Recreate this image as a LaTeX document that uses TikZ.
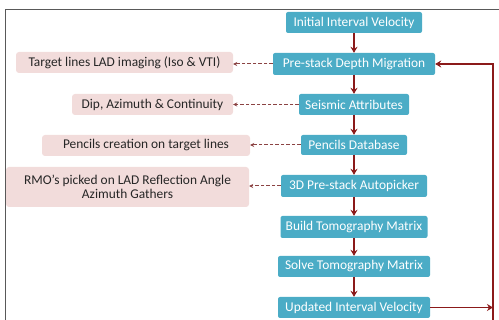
\documentclass[tikz,border=0pt]{standalone}
\usepackage{fontspec}
\setmainfont{Carlito}
\usetikzlibrary{arrows.meta}
\definecolor{bluebox}{HTML}{4BACC6}
\definecolor{pinkbox}{HTML}{F2DCDB}
\definecolor{arrred}{HTML}{8B1A1A}
\definecolor{dashred}{HTML}{8B4343}
\begin{document}
\begin{tikzpicture}[x=1pt,y=-1pt,
  bluestep/.style={fill=bluebox,rounded corners=2pt,text=white,font=\fontsize{13.4}{14.5}\selectfont,inner sep=0pt,align=center},
  pinkstep/.style={fill=pinkbox,rounded corners=3pt,text=black!85,font=\fontsize{13.4}{14.5}\selectfont,inner sep=0pt,align=center},
  flow/.style={draw=arrred,line width=1.4pt,-{Stealth[length=6pt,width=7pt]}},
  side/.style={draw=dashred,line width=1pt,dash pattern=on 3.5pt off 2pt,-{Stealth[length=4pt,width=4pt]}}]
\useasboundingbox (0,0) rectangle (499,320);
\draw[gray!70!black,line width=0.9pt] (5,320) -- (5,9) -- (499,9);
% blue boxes
\node[bluestep,minimum width=136pt,minimum height=21pt] (b1) at (354,22.5) {Initial Interval Velocity};
\node[bluestep,minimum width=162pt,minimum height=22pt] (b2) at (354,64) {Pre-stack Depth Migration};
\node[bluestep,minimum width=110pt,minimum height=21pt] (b3) at (354,104.5) {Seismic Attributes};
\node[bluestep,minimum width=106pt,minimum height=20pt] (b4) at (354,145) {Pencils Database};
\node[bluestep,minimum width=146pt,minimum height=22pt] (b5) at (354,186) {3D Pre-stack Autopicker};
\node[bluestep,minimum width=147pt,minimum height=22pt] (b6) at (354,227) {Build Tomography Matrix};
\node[bluestep,minimum width=152pt,minimum height=21pt] (b7) at (354,266.5) {Solve Tomography Matrix};
\node[bluestep,minimum width=152pt,minimum height=21pt] (b8) at (354,307.5) {Updated Interval Velocity};
% pink boxes
\node[pinkstep,minimum width=217pt,minimum height=21pt] (p1) at (124.5,62.5) {Target lines LAD imaging (Iso \& VTI)};
\node[pinkstep,minimum width=161pt,minimum height=21pt] (p2) at (152.5,104.5) {Dip, Azimuth \& Continuity};
\node[pinkstep,minimum width=208pt,minimum height=21pt] (p3) at (146,145.5) {Pencils creation on target lines};
\node[pinkstep,minimum width=243pt,minimum height=40pt] (p4) at (127.5,187) {RMO’s picked on LAD Reflection Angle\\Azimuth Gathers};
% main flow
\draw[flow] (b1) -- (b2);
\draw[flow] (b2) -- (b3);
\draw[flow] (b3) -- (b4);
\draw[flow] (b4) -- (b5);
\draw[flow] (b5) -- (b6);
\draw[flow] (b6) -- (b7);
\draw[flow] (b7) -- (b8);
% side arrows
\draw[side] (b2.west) -- (p1.east |- b2.west);
\draw[side] (b3.west) -- (p2.east |- b3.west);
\draw[side] (b4.west) -- (p3.east |- b4.west);
\draw[side] (b5.west) -- (p4.east |- b5.west);
% feedback loop
\coordinate (fb) at (493,307.5);
\coordinate (fbb) at (493,320);
\coordinate (fbt) at (493,64);
\draw[flow] (b8.east) -- (fb);
\draw[flow] (fbb) -- (fbt) -- (b2.east);
\end{tikzpicture}
\end{document}
